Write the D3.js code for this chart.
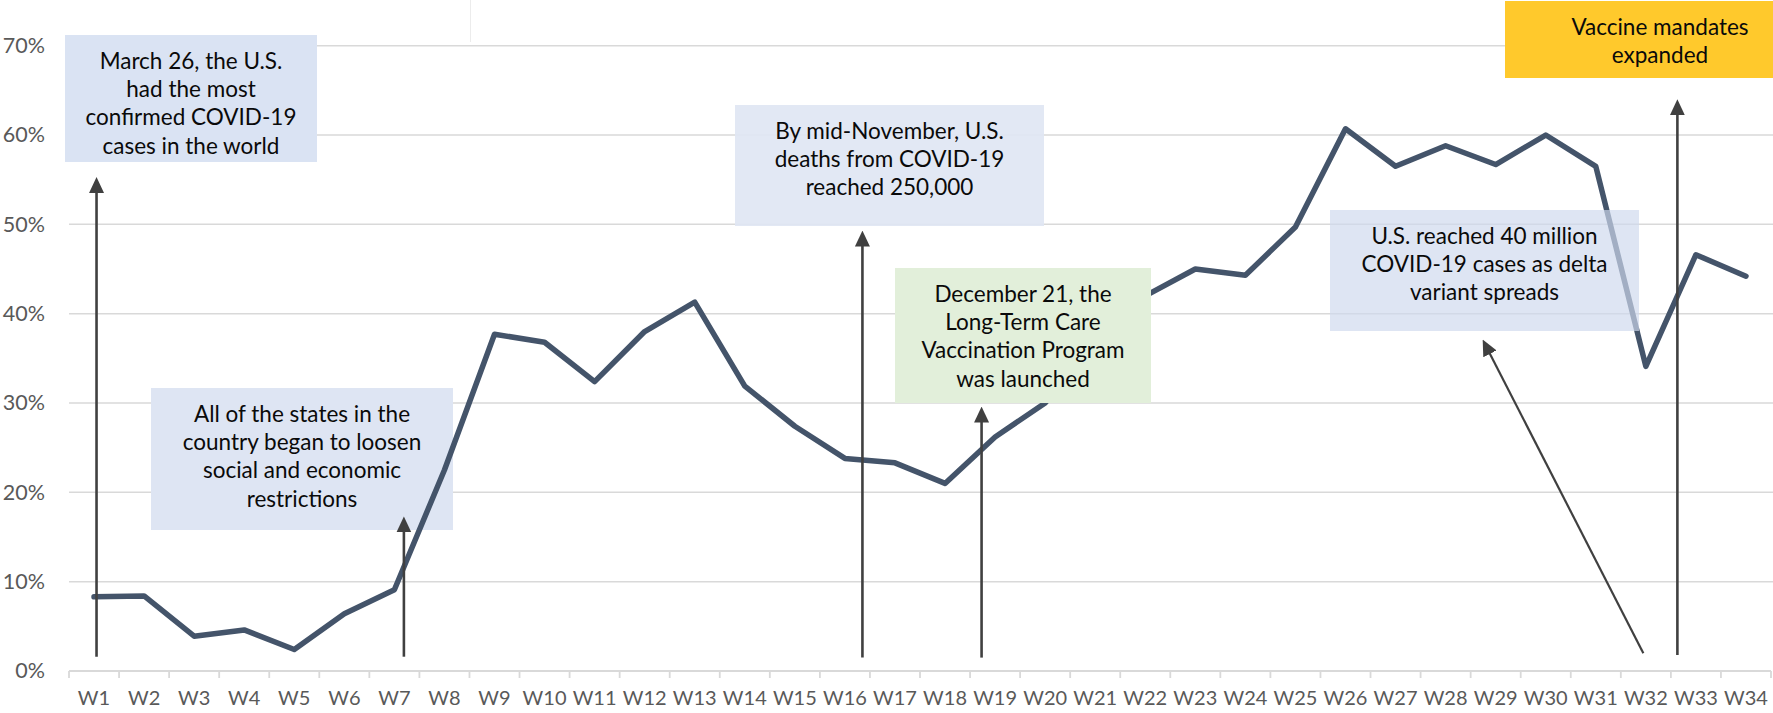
<!DOCTYPE html>
<html>
<head>
<meta charset="utf-8">
<script src="https://cdn.jsdelivr.net/npm/d3@7"></script>
<style>
  html, body { margin: 0; padding: 0; background: #ffffff; }
  svg { display: block; }
</style>
</head>
<body>
<svg id="chart" width="1773" height="713"></svg>
<script>
// ---- data ----
const weeks = ["W1","W2","W3","W4","W5","W6","W7","W8","W9","W10","W11","W12","W13","W14","W15","W16","W17",
               "W18","W19","W20","W21","W22","W23","W24","W25","W26","W27","W28","W29","W30","W31","W32","W33","W34"];
const share = [8.3, 8.4, 3.9, 4.6, 2.4, 6.4, 9.1, 22.5, 37.7, 36.8, 32.4, 38.0, 41.3, 31.9, 27.4, 23.8, 23.3,
               21.0, 26.2, 30.0, 36.5, 42.0, 45.0, 44.3, 49.7, 60.7, 56.5, 58.8, 56.7, 60.0, 56.5, 34.1, 46.6, 44.2];
const yTicks = [0, 10, 20, 30, 40, 50, 60, 70];
const yTickLabels = ["0%", "10%", "20%", "30%", "40%", "50%", "60%", "70%"];

const noteTexts = [
  ["March 26, the U.S.", "had the most", "confirmed COVID-19", "cases in the world"],
  ["All of the states in the", "country began to loosen", "social and economic", "restrictions"],
  ["By mid-November, U.S.", "deaths from COVID-19", "reached 250,000"],
  ["December 21, the", "Long-Term Care", "Vaccination Program", "was launched"],
  ["U.S. reached 40 million", "COVID-19 cases as delta", "variant spreads"],
  ["Vaccine mandates", "expanded"]
];
// arrows in data units: [week-position, value]
const arrowFrom = [[0.55, 1.6], [6.69, 1.6], [15.85, 1.5], [18.23, 1.5], [31.45, 2.0], [32.13, 1.8]];
const arrowTo   = [[0.55, 55.3], [6.69, 17.3], [15.85, 49.3], [18.23, 29.6], [28.24, 37.1], [32.13, 64.0]];

// ---- layout ----
const W = 1773, H = 713;
const pL = 69, pR = 1771, pT = 45.7, pB = 671;
const FONT = "Lato, 'Open Sans', sans-serif";

const boxes = [
  {x: 65,   y: 35,  w: 252, h: 127, fill: "#DAE3F3", op: 1},
  {x: 151,  y: 388, w: 302, h: 142, fill: "#DEE5F3", op: 1},
  {x: 735,  y: 105, w: 309, h: 121, fill: "#DFE6F3", op: 0.92},
  {x: 895,  y: 268, w: 256, h: 135, fill: "#E2EFDA", op: 1},
  {x: 1330, y: 210, w: 309, h: 121, fill: "rgb(206,216,237)", op: 0.68},
  {x: 1505, y: 1,   w: 310, h: 77,  fill: "#FFC92C", op: 1}
];

const svg = d3.select("#chart");
svg.append("rect").attr("width", W).attr("height", H).attr("fill", "#fff");

const x = d3.scaleBand().domain(weeks).range([pL, pR]).padding(0);
const xPos = d3.scaleLinear().domain([0, weeks.length]).range([pL, pR]);
const y = d3.scaleLinear().domain([0, 70]).range([pB, pT]);

// faint artifact line at top
svg.append("line").attr("x1", 470.5).attr("x2", 470.5).attr("y1", 0).attr("y2", 42)
  .attr("stroke", "#ececec").attr("stroke-width", 1);

// gridlines
svg.append("g").selectAll("line").data(yTicks.filter(d => d > 0)).join("line")
  .attr("x1", pL).attr("x2", W)
  .attr("y1", d => y(d)).attr("y2", d => y(d))
  .attr("stroke", "#d9d9d9").attr("stroke-width", 1.5);

// y axis labels
const yAxis = d3.axisLeft(y).tickValues(yTicks)
  .tickFormat((d, i) => yTickLabels[i]).tickSize(0).tickPadding(24);
const gy = svg.append("g").attr("transform", `translate(${pL},0)`).call(yAxis);
gy.select(".domain").remove();
gy.selectAll("text").attr("fill", "#595959").style("font-family", FONT).style("font-size", "21.5px");

// x axis: domain line, boundary ticks, labels
const gx = svg.append("g");
gx.append("line").attr("x1", pL).attr("x2", pR).attr("y1", pB).attr("y2", pB)
  .attr("stroke", "#d9d9d9").attr("stroke-width", 1.8);
gx.selectAll("line.tk").data(d3.range(weeks.length + 1)).join("line").attr("class", "tk")
  .attr("x1", i => xPos(i)).attr("x2", i => xPos(i))
  .attr("y1", pB).attr("y2", pB + 7)
  .attr("stroke", "#d9d9d9").attr("stroke-width", 1.8);
const xAxis = d3.axisBottom(x).tickSizeInner(0).tickSizeOuter(0).tickPadding(20);
const gxl = svg.append("g").attr("transform", `translate(0,${pB})`).call(xAxis);
gxl.select(".domain").remove();
gxl.selectAll("text").attr("fill", "#595959").style("font-family", FONT).style("font-size", "20px");

function drawBox(g, i) {
  const b = boxes[i];
  g.append("rect").attr("x", b.x).attr("y", b.y).attr("width", b.w).attr("height", b.h)
    .attr("fill", b.fill).attr("fill-opacity", b.op);
}
const under = svg.append("g");
drawBox(under, 1);

// data line
const line = d3.line().x((d, i) => x(weeks[i]) + x.bandwidth() / 2).y(d => y(d));
svg.append("path").datum(share).attr("d", line)
  .attr("fill", "none").attr("stroke", "#44546A").attr("stroke-width", 5.5)
  .attr("stroke-linejoin", "round").attr("stroke-linecap", "round");

const over = svg.append("g");
[0, 2, 3, 4, 5].forEach(i => drawBox(over, i));

// arrows
const defs = svg.append("defs");
defs.append("marker").attr("id", "ah").attr("markerUnits", "userSpaceOnUse")
  .attr("viewBox", "0 0 16 16").attr("markerWidth", 16).attr("markerHeight", 16)
  .attr("refX", 8).attr("refY", 8).attr("orient", "auto")
  .append("path").attr("d", "M0,0.5 L16,8 L0,15.5 Z").attr("fill", "#404040");

const ag = svg.append("g");
arrowFrom.forEach((f, i) => {
  const t = arrowTo[i];
  const x1 = xPos(f[0]), y1 = y(f[1]), x2 = xPos(t[0]), y2 = y(t[1]);
  const len = Math.hypot(x2 - x1, y2 - y1);
  const ux = (x2 - x1) / len, uy = (y2 - y1) / len;
  ag.append("line").attr("x1", x1).attr("y1", y1)
    .attr("x2", x2 - ux * 8).attr("y2", y2 - uy * 8)
    .attr("stroke", "#404040").attr("stroke-width", i === 4 ? 2.2 : 2.6)
    .attr("marker-end", "url(#ah)");
});

// annotation texts
const tg = svg.append("g");
noteTexts.forEach((lines, i) => {
  const b = boxes[i];
  const cx = i === 5 ? 1660 : b.x + b.w / 2;
  const t = tg.append("text").attr("text-anchor", "middle")
    .style("font-family", FONT).style("font-size", "22.5px").attr("fill", "#0a0a0a");
  lines.forEach((s, k) => {
    t.append("tspan").attr("x", cx).attr("y", b.y + 33.5 + k * 28.4).text(s);
  });
});
</script>
</body>
</html>
